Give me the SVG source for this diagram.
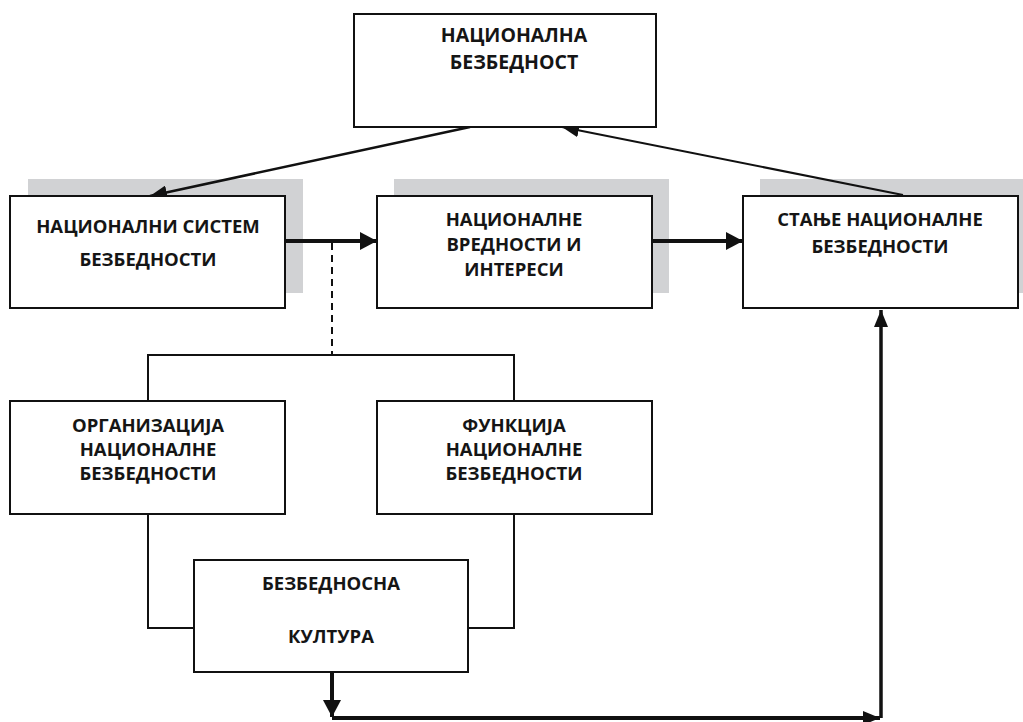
<svg xmlns="http://www.w3.org/2000/svg" width="1023" height="722" viewBox="0 0 1023 722">
<style>
.box{fill:#fff;stroke:#111;stroke-width:2}
.sh{fill:#d1d2d4}
.t{font-family:"Open Sans","Noto Sans",sans-serif;font-weight:bold;font-size:18.5px;fill:#151515;text-anchor:middle}
.tt{font-size:19.5px}
.ln{fill:none;stroke:#111}
</style>
<defs>
<marker id="ab" markerUnits="userSpaceOnUse" markerWidth="18" markerHeight="18" refX="17" refY="9" orient="auto"><path d="M0,0 L17,9 L0,18 z" fill="#111"/></marker>
<marker id="as" markerUnits="userSpaceOnUse" markerWidth="18" markerHeight="14" refX="17" refY="7" orient="auto"><path d="M0,0 L17,7 L0,14 z" fill="#111"/></marker>
</defs>
<rect class="sh" x="28" y="179" width="275" height="114"/>
<rect class="sh" x="394" y="179" width="275" height="114"/>
<rect class="sh" x="760" y="179" width="263" height="114"/>
<g id="connectors">
<path class="ln" d="M470,127 L150,196" stroke-width="2.5" marker-end="url(#as)"/>
<path class="ln" d="M903,195 L562,127" stroke-width="2" marker-end="url(#as)"/>
<path class="ln" d="M285,241 H377" stroke-width="4" marker-end="url(#ab)"/>
<path class="ln" d="M652,241 H743" stroke-width="4" marker-end="url(#ab)"/>
<path class="ln" d="M332,243 V355" stroke-width="2" stroke-dasharray="7,5"/>
<path class="ln" d="M148,401 V355 H514 V401" stroke-width="2"/>
<path class="ln" d="M148,514 V628 H194" stroke-width="2"/>
<path class="ln" d="M514,514 V628 H468" stroke-width="2"/>
<path class="ln" d="M332,672 V717" stroke-width="4" marker-end="url(#ab)"/>
<path class="ln" d="M332,718 H880" stroke-width="4" marker-end="url(#as)"/>
<path class="ln" d="M881,718 V310" stroke-width="3.5" marker-end="url(#as)"/>
</g>
<g id="n-top">
<rect class="box" x="354" y="14" width="302" height="113"/>
<text class="t tt" x="514" y="42">НАЦИОНАЛНА</text>
<text class="t tt" x="514" y="69">БЕЗБЕДНОСТ</text>
</g>
<g id="n-system">
<rect class="box" x="10" y="196" width="275" height="112"/>
<text class="t" x="148" y="233">НАЦИОНАЛНИ СИСТЕМ</text>
<text class="t" x="148" y="266">БЕЗБЕДНОСТИ</text>
</g>
<g id="n-values">
<rect class="box" x="377" y="196" width="275" height="112"/>
<text class="t" x="514" y="226">НАЦИОНАЛНЕ</text>
<text class="t" x="514" y="251">ВРЕДНОСТИ И</text>
<text class="t" x="514" y="276">ИНТЕРЕСИ</text>
</g>
<g id="n-state">
<rect class="box" x="743" y="196" width="275" height="112"/>
<text class="t" x="880" y="226">СТАЊЕ НАЦИОНАЛНЕ</text>
<text class="t" x="880" y="253">БЕЗБЕДНОСТИ</text>
</g>
<g id="n-org">
<rect class="box" x="10" y="401" width="275" height="113"/>
<text class="t" x="148" y="432">ОРГАНИЗАЦИЈА</text>
<text class="t" x="148" y="456">НАЦИОНАЛНЕ</text>
<text class="t" x="148" y="480">БЕЗБЕДНОСТИ</text>
</g>
<g id="n-func">
<rect class="box" x="377" y="401" width="275" height="113"/>
<text class="t" x="514" y="432">ФУНКЦИЈА</text>
<text class="t" x="514" y="456">НАЦИОНАЛНЕ</text>
<text class="t" x="514" y="480">БЕЗБЕДНОСТИ</text>
</g>
<g id="n-culture">
<rect class="box" x="194" y="560" width="274" height="112"/>
<text class="t" x="331" y="590">БЕЗБЕДНОСНА</text>
<text class="t" x="331" y="643">КУЛТУРА</text>
</g>
</svg>
